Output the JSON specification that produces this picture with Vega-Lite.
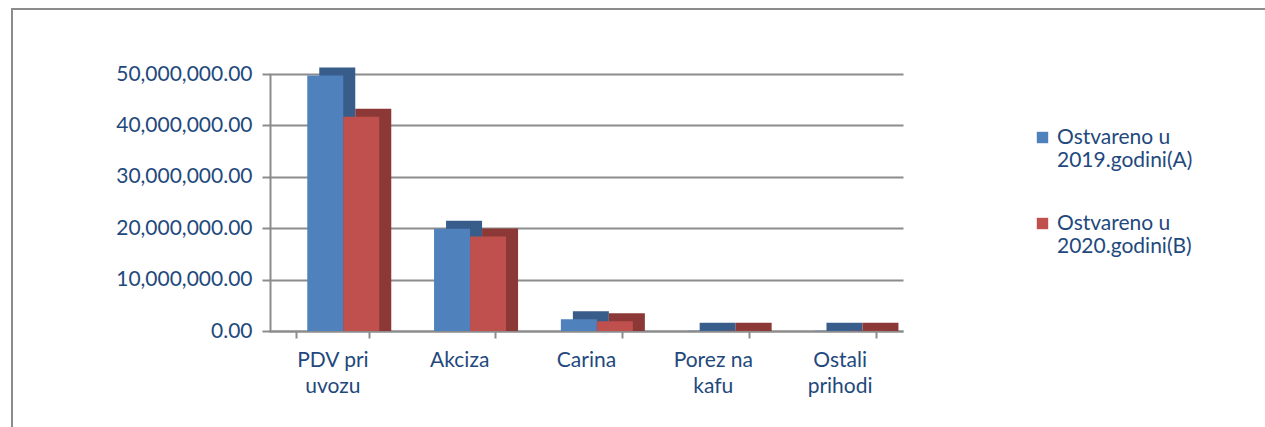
{
  "$schema": "https://vega.github.io/schema/vega-lite/v6.json",
  "width": 1270,
  "height": 430,
  "autosize": "none",
  "padding": {"left": 12, "top": 9, "right": 0, "bottom": 0},
  "background": "white",
  "config": {
    "view": {"stroke": "#8c8c8c", "strokeWidth": 2},
    "font": "Lato"
  },
  "data": {
    "values": [
      {"category": "PDV pri uvozu", "series": "Ostvareno u 2019.godini(A)", "value": 49700000},
      {"category": "PDV pri uvozu", "series": "Ostvareno u 2020.godini(B)", "value": 41700000},
      {"category": "Akciza", "series": "Ostvareno u 2019.godini(A)", "value": 19900000},
      {"category": "Akciza", "series": "Ostvareno u 2020.godini(B)", "value": 18400000},
      {"category": "Carina", "series": "Ostvareno u 2019.godini(A)", "value": 2300000},
      {"category": "Carina", "series": "Ostvareno u 2020.godini(B)", "value": 1900000},
      {"category": "Porez na kafu", "series": "Ostvareno u 2019.godini(A)", "value": 60000},
      {"category": "Porez na kafu", "series": "Ostvareno u 2020.godini(B)", "value": 50000},
      {"category": "Ostali prihodi", "series": "Ostvareno u 2019.godini(A)", "value": 40000},
      {"category": "Ostali prihodi", "series": "Ostvareno u 2020.godini(B)", "value": 30000}
    ]
  },
  "encoding": {
    "x": {
      "field": "category",
      "type": "nominal",
      "sort": ["PDV pri uvozu", "Akciza", "Carina", "Porez na kafu", "Ostali prihodi"],
      "scale": {"range": [257, 891], "paddingInner": 0.43, "paddingOuter": 0.215},
      "axis": {
        "title": null,
        "orient": "bottom",
        "offset": -108,
        "labelAngle": 0,
        "labelExpr": "{'PDV pri uvozu': ['PDV pri', 'uvozu'], 'Porez na kafu': ['Porez na', 'kafu'], 'Ostali prihodi': ['Ostali', 'prihodi']}[datum.label] || datum.label",
        "labelFontSize": 21,
        "labelColor": "#1F497D",
        "labelLineHeight": 26,
        "labelPadding": 11,
        "labelBaseline": "top",
        "tickBand": "extent",
        "tickSize": 7,
        "tickColor": "#8c8c8c",
        "tickWidth": 2,
        "domainColor": "#8c8c8c",
        "domainWidth": 2
      }
    }
  },
  "layer": [
    {
      "mark": {"type": "bar"},
      "encoding": {
        "xOffset": {
          "field": "series",
          "type": "nominal",
          "sort": ["Ostvareno u 2019.godini(A)", "Ostvareno u 2020.godini(B)"],
          "scale": {"range": [23, 95]}
        },
        "y": {
          "field": "value",
          "type": "quantitative",
          "scale": {"domain": [0, 50000000], "range": [314, 57], "nice": false},
          "axis": null
        },
        "y2": {"datum": -1556420},
        "color": {
          "field": "series",
          "type": "nominal",
          "sort": ["Ostvareno u 2019.godini(A)", "Ostvareno u 2020.godini(B)"],
          "scale": {"range": ["#385D8A", "#8C3836"]},
          "legend": null
        }
      }
    },
    {
      "mark": {"type": "bar"},
      "encoding": {
        "xOffset": {
          "field": "series",
          "type": "nominal",
          "sort": ["Ostvareno u 2019.godini(A)", "Ostvareno u 2020.godini(B)"],
          "scale": {"range": [11, 83]}
        },
        "y": {
          "field": "value",
          "type": "quantitative",
          "scale": {"domain": [0, 50000000], "range": [322, 65], "nice": false},
          "axis": {
            "title": null,
            "offset": -258,
            "values": [0, 10000000, 20000000, 30000000, 40000000, 50000000],
            "format": ",.2f",
            "labelFontSize": 21,
            "labelColor": "#1F497D",
            "labelPadding": 10,
            "tickSize": 8,
            "tickColor": "#8c8c8c",
            "tickWidth": 2,
            "domainColor": "#8c8c8c",
            "domainWidth": 2,
            "grid": true,
            "gridColor": "#8c8c8c",
            "gridWidth": 2
          }
        },
        "color": {
          "field": "series",
          "type": "nominal",
          "sort": ["Ostvareno u 2019.godini(A)", "Ostvareno u 2020.godini(B)"],
          "scale": {"range": ["#4F81BD", "#C0504D"]},
          "legend": {
            "title": null,
            "orient": "none",
            "legendX": 1020,
            "legendY": 107,
            "symbolType": "M-1,0.93H1V2.93H-1Z",
            "symbolSize": 130,
            "symbolStrokeWidth": 0,
            "labelFontSize": 21,
            "labelColor": "#1F497D",
            "labelLimit": 300,
            "labelLineHeight": 26,
            "labelBaseline": "top",
            "labelExpr": "['Ostvareno u', slice(datum.label, 12)]",
            "rowPadding": 31
          }
        }
      }
    }
  ],
  "resolve": {"scale": {"y": "independent", "xOffset": "independent", "color": "independent"}}
}
